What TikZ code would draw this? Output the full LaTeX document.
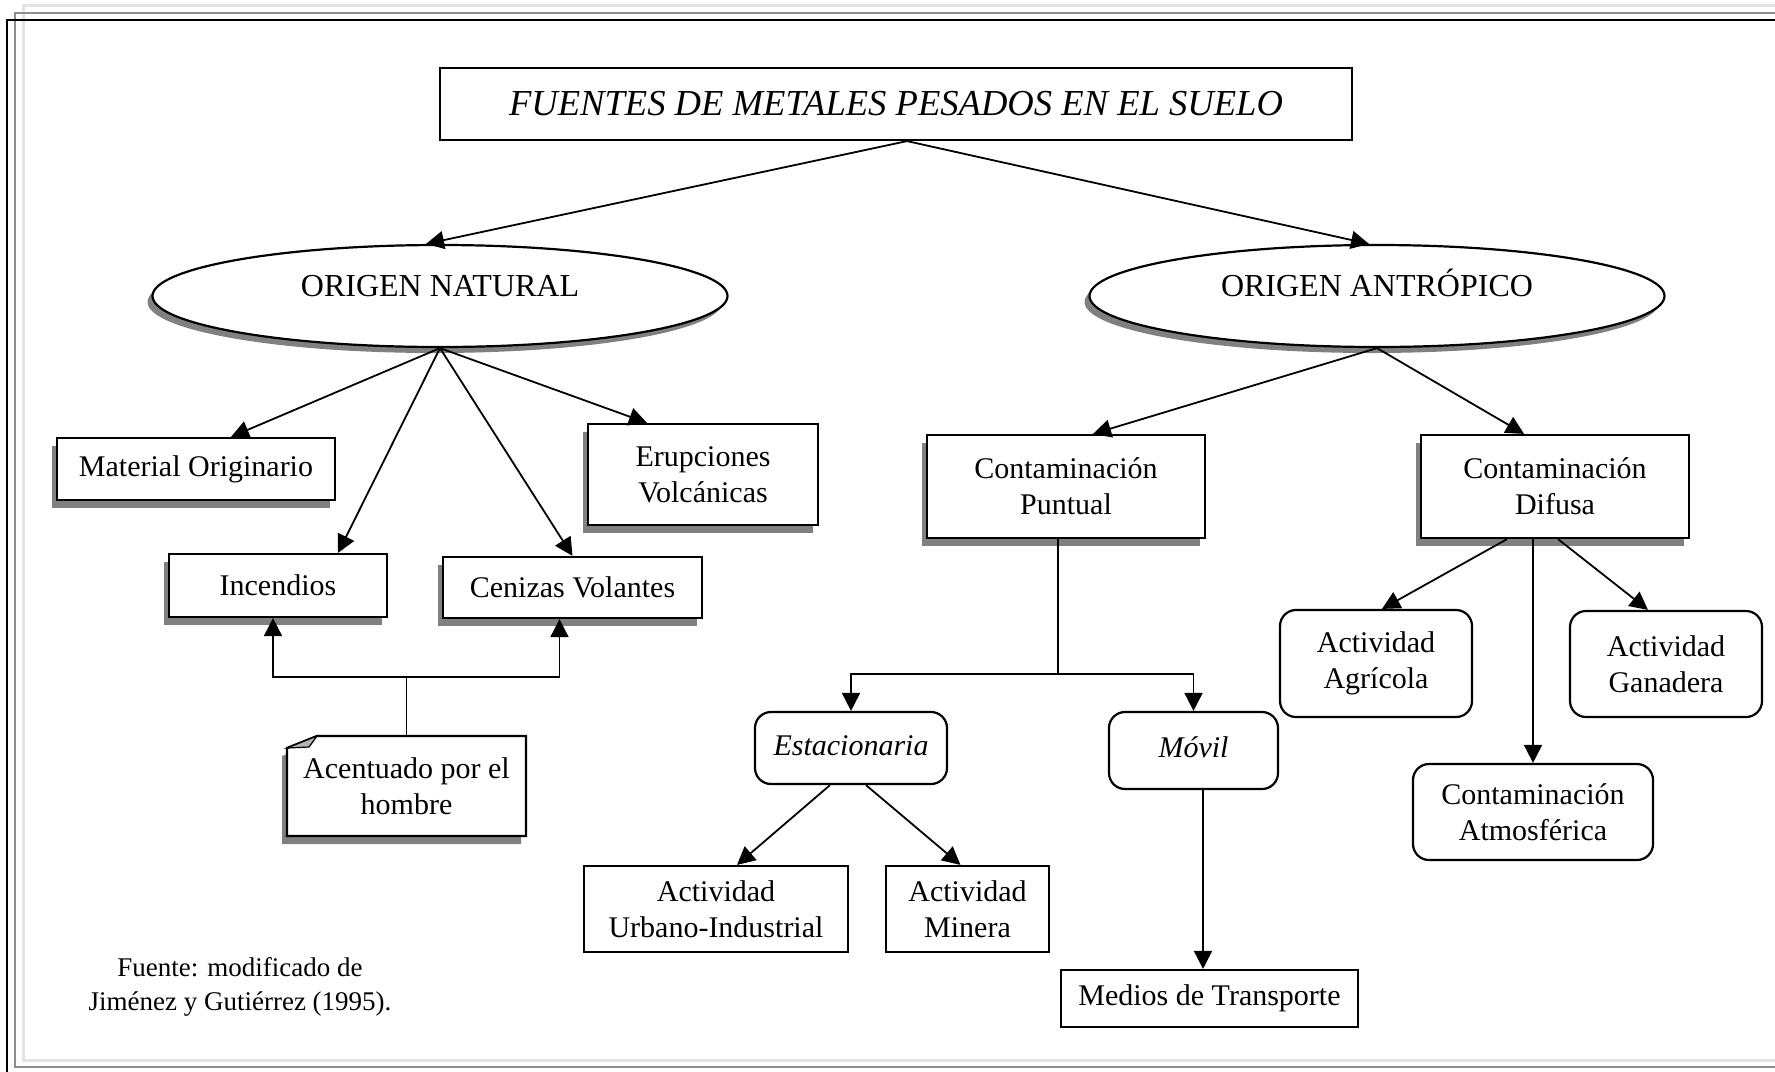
\documentclass[tikz,border=0pt]{standalone}
\usepackage{fontspec}
\setmainfont{Liberation Serif}
\usetikzlibrary{arrows.meta,shapes.geometric,shadows,calc,backgrounds}

\definecolor{shadowgray}{HTML}{808080}
\definecolor{framegray}{HTML}{8E8E8E}
\definecolor{framelight}{HTML}{E3E3E3}

\begin{document}
\begin{tikzpicture}[x=0.5pt,y=-0.5pt,
  txt/.style={font=\fontsize{15}{18}\selectfont, align=center, inner sep=0pt},
  box/.style={txt, draw, line width=1.1pt, fill=white, rectangle},
  sbox/.style={box, drop shadow={shadow xshift=-2.5pt, shadow yshift=-4pt, fill=shadowgray, opacity=1}},
  rbox/.style={box, rounded corners=8pt},
  oval/.style={ellipse, draw, line width=1.1pt, fill=white, inner sep=0pt,
    font=\fontsize{16}{19}\selectfont,
    drop shadow={shadow xshift=-2.5pt, shadow yshift=-3pt, fill=shadowgray, opacity=1}},
  conn/.style={line width=0.9pt},
  arr/.style={conn, -{Triangle[length=9pt,width=9pt]}},
  sz/.style 2 args={minimum width=#1*0.5pt, minimum height=#2*0.5pt},
]
\useasboundingbox (0,0) rectangle (1775,1071);
\clip (0,0) rectangle (1775,1071);

% page frame with offset shading lines
\draw[framelight, line width=1.5pt] (23,5) rectangle (1800,1060);
\draw[framegray, line width=1pt] (15,12.5) rectangle (1800,1067);
\draw[black, line width=1pt] (7,20) rectangle (1800,1075);

% title and the two origins
\node[box, sz={912}{72}, font=\fontsize{18.3}{22}\selectfont\itshape] (title) at (896,104)
  {FUENTES DE METALES PESADOS EN EL SUELO};
\node[oval, sz={575}{102}] (nat) at (440,296) {\smash{ORIGEN NATURAL}};
\node[oval, sz={575}{102}] (ant) at (1377,296) {\smash{ORIGEN ANTRÓPICO}};

% natural sources
\node[sbox, sz={278}{62}] (mat) at (196,469) {Material Originario};
\node[sbox, sz={230}{101}] (eru) at (703,474.5) {Erupciones\\Volcánicas};
\node[sbox, sz={218}{63}] (inc) at (278,585.5) {Incendios};
\node[sbox, sz={259}{61}] (cen) at (572.5,587.5) {Cenizas Volantes};
\node[txt, sz={239}{100}] (note) at (406.5,786) {Acentuado por el\\hombre};

% note outline with folded corner
\begin{scope}[on background layer]
  \fill[shadowgray] (282,756) -- (312,744) -- (521,744) -- (521,844) -- (282,844) -- cycle;
  \filldraw[fill=white, line width=1.1pt] (287,748) -- (317,736) -- (526,736) -- (526,836) -- (287,836) -- cycle;
  \filldraw[fill=shadowgray!60, line width=0.6pt] (287,748) -- (317,736) -- (309,747) -- cycle;
\end{scope}

% anthropic sources
\node[sbox, sz={278}{103}] (punt) at (1066,486.5) {Contaminación\\Puntual};
\node[sbox, sz={268}{103}] (dif) at (1555,486.5) {Contaminación\\Difusa};
\node[rbox, sz={192}{72}] (est) at (851,748) {\raisebox{2.5pt}{\itshape Estacionaria}};
\node[rbox, sz={169}{77}] (mov) at (1193.5,750.5) {\raisebox{3.5pt}{\itshape Móvil}};
\node[box, sz={264}{86}] (urb) at (716,909) {Actividad\\Urbano-Industrial};
\node[box, sz={163}{86}] (min) at (967.5,909) {Actividad\\Minera};
\node[box, sz={297}{57}] (med) at (1209.5,998.5) {Medios de Transporte};
\node[rbox, sz={192}{107}] (agr) at (1376,663.5) {Actividad\\Agrícola};
\node[rbox, sz={192}{106}] (gan) at (1666,664) {Actividad\\Ganadera};
\node[rbox, sz={240}{96}] (atm) at (1533,812) {Contaminación\\Atmosférica};

% source note
\node[txt, font=\fontsize{13.5}{17}\selectfont] (src) at (240,987)
  {Fuente: modificado de\\Jiménez y Gutiérrez (1995).};

% connectors
\coordinate (ts) at ($(title.south)+(11,0)$);
\draw[arr] (ts) -- ($(nat.north)+(-14,0)$);
\draw[arr] (ts) -- ($(ant.north)+(-8,0)$);

\draw[arr] (nat.south) -- ($(mat.north)+(35,0)$);
\draw[arr] (nat.south) -- ($(inc.north)+(60,0)$);
\draw[arr] (nat.south) -- (cen.north);
\draw[arr] (nat.south) -- ($(eru.north)+(-56,0)$);

\coordinate (hb) at ($(note.north)+(0,-59)$);
\draw[conn] (note.north) -- (hb);
\draw[arr] (hb) -| ($(inc.south)+(-5,0)$);
\draw[arr] (hb) -| ($(cen.south)+(-13,0)$);

\draw[arr] (ant.south) -- ($(punt.north)+(27,0)$);
\draw[arr] (ant.south) -- ($(dif.north)+(-31,0)$);

\coordinate (pj) at ($(punt.south)+(-8,135)$);
\draw[conn] ($(punt.south)+(-8,0)$) -- (pj);
\draw[arr] (pj) -| (est.north);
\draw[arr] (pj) -| (mov.north);

\draw[arr] ($(est.south)+(-21,0)$) -- ($(urb.north)+(21,0)$);
\draw[arr] ($(est.south)+(15,0)$) -- ($(min.north)+(-7,0)$);

\coordinate (ms) at ($(mov.south)+(9.5,0)$);
\draw[arr] (ms) -- (ms |- med.north);

\draw[arr] ($(dif.south)+(-48,0)$) -- ($(agr.north)+(6,0)$);
\draw[arr] ($(dif.south)+(-22,0)$) -- (atm.north);
\draw[arr] ($(dif.south)+(3,0)$) -- ($(gan.north)+(-18,0)$);
\end{tikzpicture}
\end{document}
